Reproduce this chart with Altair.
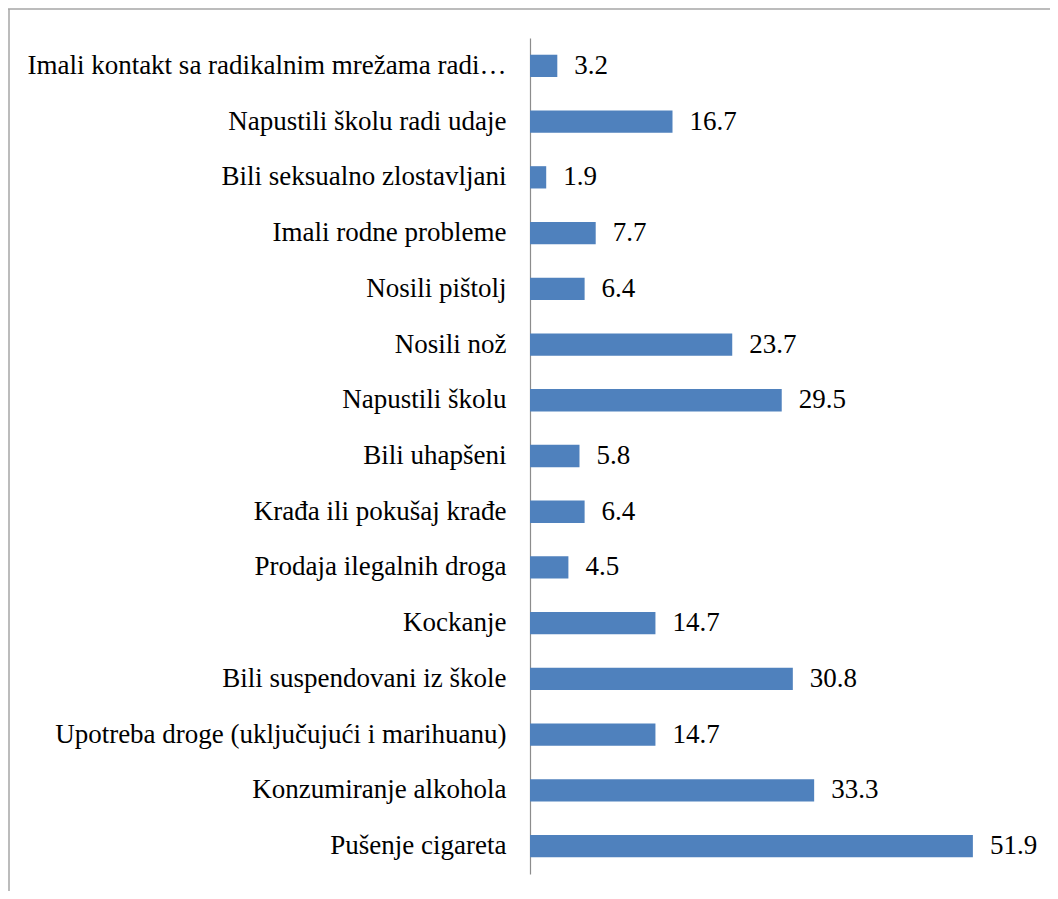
import altair as alt
import pandas as pd

categories = [
    "Imali kontakt sa radikalnim mrežama radi…",
    "Napustili školu radi udaje",
    "Bili seksualno zlostavljani",
    "Imali rodne probleme",
    "Nosili pištolj",
    "Nosili nož",
    "Napustili školu",
    "Bili uhapšeni",
    "Krađa ili pokušaj krađe",
    "Prodaja ilegalnih droga",
    "Kockanje",
    "Bili suspendovani iz škole",
    "Upotreba droge (uključujući i marihuanu)",
    "Konzumiranje alkohola",
    "Pušenje cigareta",
]
values = [3.2, 16.7, 1.9, 7.7, 6.4, 23.7, 29.5, 5.8, 6.4, 4.5, 14.7, 30.8, 14.7, 33.3, 51.9]
labels = [f"{v:.1f}" for v in values]

df = pd.DataFrame({"cat": categories, "val": values, "lab": labels})

FONT = "Liberation Serif"
FS = 27
W, H = 512, 836
PL, PT, PR, PB = 522, 30, 8, 17

y_enc = alt.Y(
    "cat:N",
    sort=categories,
    scale=alt.Scale(paddingInner=0.6, paddingOuter=0.3),
    axis=alt.Axis(
        title=None,
        ticks=False,
        domainColor="#8c8c8c",
        domainWidth=1.2,
        labelFont=FONT,
        labelFontSize=FS,
        labelColor="#000000",
        labelPadding=24,
        labelLimit=600,
        grid=False,
    ),
)
x_enc = alt.X("val:Q", scale=alt.Scale(domain=[0, 60]), axis=None)

bars = alt.Chart(df).mark_bar(color="#4F81BD").encode(x=x_enc, y=y_enc)
text = alt.Chart(df).mark_text(
    align="left", baseline="middle", dx=17, font=FONT, fontSize=FS, color="#000000"
).encode(x=x_enc, y=y_enc, text="lab:N")

frame_df = pd.DataFrame({"k": [1]})
top_line = alt.Chart(frame_df).mark_rule(color="#a6a6a6", strokeWidth=1.5).encode(
    x=alt.value(-PL), x2=alt.value(W + PR + 10), y=alt.value(-PT + 1)
)
left_line = alt.Chart(frame_df).mark_rule(color="#a6a6a6", strokeWidth=1.5).encode(
    x=alt.value(-PL + 1), y=alt.value(-PT + 1), y2=alt.value(H + PB + 10)
)

chart = (
    alt.layer(top_line, left_line, bars, text)
    .properties(
        width=W,
        height=H,
        autosize=alt.AutoSizeParams(type="none"),
        padding={"left": PL, "top": PT, "right": PR, "bottom": PB},
    )
    .configure_view(stroke=None)
)

chart.save("out.html", embed_options={"renderer": "svg", "actions": False})
